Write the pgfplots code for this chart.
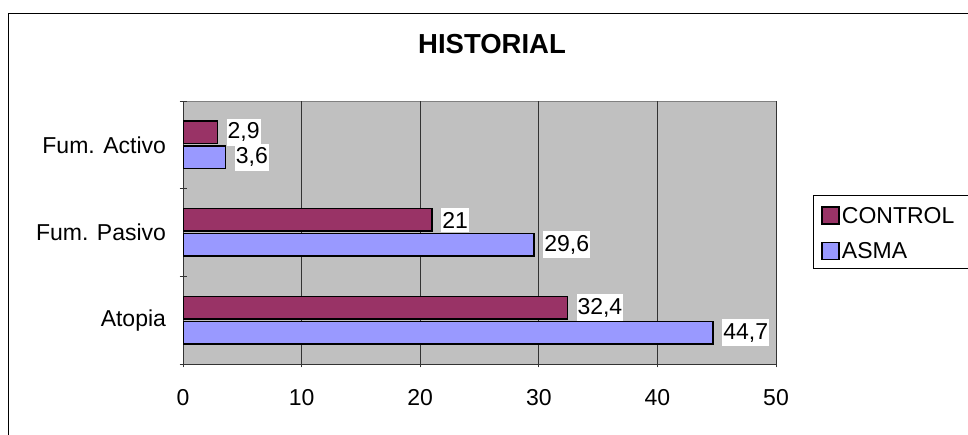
\documentclass[border=0pt]{standalone}
\usepackage{fontspec}
\setmainfont{Liberation Sans}
\usepackage{pgfplots}
\pgfplotsset{compat=1.18}
\definecolor{ctrl}{HTML}{993366}
\definecolor{asma}{HTML}{9999FF}
\definecolor{plotbg}{HTML}{C0C0C0}
\newcommand{\f}{\fontsize{23}{27}\selectfont}
\begin{document}
\begin{tikzpicture}[x=1pt,y=1pt]
\useasboundingbox (0pt,0pt) rectangle (968pt,435pt);
\draw[line width=1.5pt] (8.5pt,0pt) -- (8.5pt,421.5pt) -- (968pt,421.5pt);
\node[font=\fontsize{27.5}{32}\selectfont\bfseries] at (492pt,391pt) {HISTORIAL};
\draw[line width=0.8pt, fill=white] (813pt,167pt) rectangle (980pt,240pt);
\begin{axis}[
  at={(183pt,71pt)}, anchor=south west,
  scale only axis, width=593pt, height=263pt,
  xbar, bar width=22.5pt,
  xmin=0, xmax=50, ymin=-0.5, ymax=2.5,
  xtick={0,10,...,50},
  ytick={0,1,2}, yticklabels={Atopia,Fum. Pasivo,Fum. Activo},
  minor ytick={-0.5,0.5,1.5,2.5},
  tick align=outside,
  major tick length=7pt, minor tick length=7pt,
  major y tick style={draw=none},
  minor y tick style={draw=black!80, line width=0.8pt},
  major x tick style={draw=black!80, line width=0.8pt},
  axis lines=left,
  axis line style={-, black!80, line width=0.8pt},
  axis background/.style={fill=plotbg, draw=gray, line width=0.8pt},
  xmajorgrids,
  grid style={black!80, line width=0.8pt},
  tick label style={font=\f},
  xticklabel style={yshift=-18pt},
  yticklabel style={xshift=-10pt},
  nodes near coords,
  nodes near coords style={fill=white, inner xsep=1pt, inner ysep=4pt, xshift=8.5pt, anchor=west, font=\f},
  /pgf/number format/use comma,
  /pgf/number format/fixed,
  /pgf/number format/precision=1,
  /pgf/number format/assume math mode=true,
  reverse legend,
  legend style={at={(1.0624,0.616)}, anchor=north west, draw=none, fill=none, font=\f,
    inner xsep=0pt, inner ysep=3pt, row sep=14pt, cells={anchor=west}},
  legend image code/.code={\draw[#1, line width=1.5pt, draw=black] (9pt,-8pt) rectangle (26pt,9pt); \path[draw=none, fill=none] (0pt,0pt) -- (1pt,0pt);},
]
\addplot[fill=asma, draw=black, line width=1.5pt, bar shift=-12.5pt] coordinates {(44.7,0) (29.6,1) (3.6,2)};
\addlegendentry{ASMA}
\addplot[fill=ctrl, draw=black, line width=1.5pt, bar shift=12.5pt] coordinates {(32.4,0) (21,1) (2.9,2)};
\addlegendentry{CONTROL}
\end{axis}
\end{tikzpicture}
\end{document}
